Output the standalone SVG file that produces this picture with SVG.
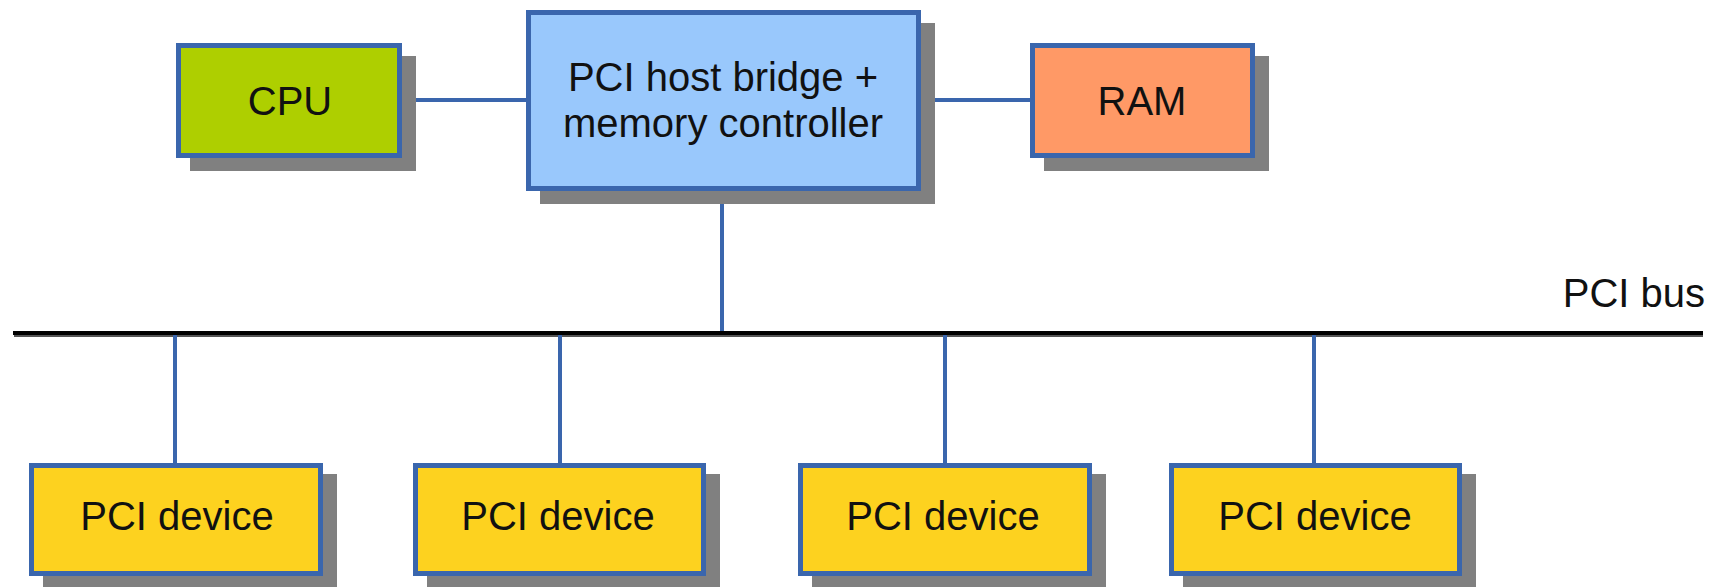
<svg xmlns="http://www.w3.org/2000/svg" width="1717" height="587" viewBox="0 0 1717 587">
  <style>
    .shadow { fill: #808080; }
    .box { stroke: #3a66ad; stroke-width: 5; }
    .cpu { fill: #aecf00; }
    .host { fill: #99c8fc; }
    .ram { fill: #ff9966; }
    .dev { fill: #fdd21f; }
    .label { font-family: "Liberation Sans", Arial, sans-serif; font-size: 40px; fill: #111; text-anchor: middle; }
    .link { stroke: #3a66ad; stroke-width: 4; fill: none; }
    .bus { stroke: #000; stroke-width: 4; fill: none; }
    .bus-shade { stroke: #555; stroke-width: 3; fill: none; }
  </style>

  <!-- connectors -->
  <g id="connectors">
    <line class="link" x1="402" y1="100" x2="526" y2="100"/>
    <line class="link" x1="921" y1="100" x2="1030" y2="100"/>
    <line class="link" x1="722" y1="191" x2="722" y2="333"/>
    <line class="bus-shade" x1="14" y1="335.5" x2="1703" y2="335.5"/>
    <line class="bus" x1="13" y1="333" x2="1703" y2="333"/>
    <line class="link" x1="175" y1="335" x2="175" y2="463"/>
    <line class="link" x1="560" y1="335" x2="560" y2="463"/>
    <line class="link" x1="945" y1="335" x2="945" y2="463"/>
    <line class="link" x1="1314" y1="335" x2="1314" y2="463"/>
    <text class="label" x="1705" y="307" style="text-anchor:end">PCI bus</text>
  </g>

  <g id="cpu">
    <rect class="shadow" x="190" y="56" width="226" height="115"/>
    <rect class="box cpu" x="178.5" y="45.5" width="221" height="110"/>
    <text class="label" x="290" y="115">CPU</text>
  </g>

  <g id="host-bridge">
    <rect class="shadow" x="540" y="23" width="395" height="181"/>
    <rect class="box host" x="528.5" y="12.5" width="390" height="176"/>
    <text class="label" x="723" y="91">PCI host bridge +</text>
    <text class="label" x="723" y="137">memory controller</text>
  </g>

  <g id="ram">
    <rect class="shadow" x="1044" y="56" width="225" height="115"/>
    <rect class="box ram" x="1032.5" y="45.5" width="220" height="110"/>
    <text class="label" x="1142" y="115">RAM</text>
  </g>

  <g id="device-1">
    <rect class="shadow" x="43" y="474" width="294" height="113"/>
    <rect class="box dev" x="31.5" y="465.5" width="289" height="108"/>
    <text class="label" x="177" y="530">PCI device</text>
  </g>

  <g id="device-2">
    <rect class="shadow" x="427" y="474" width="293" height="113"/>
    <rect class="box dev" x="415.5" y="465.5" width="288" height="108"/>
    <text class="label" x="558" y="530">PCI device</text>
  </g>

  <g id="device-3">
    <rect class="shadow" x="812" y="474" width="294" height="113"/>
    <rect class="box dev" x="800.5" y="465.5" width="289" height="108"/>
    <text class="label" x="943" y="530">PCI device</text>
  </g>

  <g id="device-4">
    <rect class="shadow" x="1183" y="474" width="293" height="113"/>
    <rect class="box dev" x="1171.5" y="465.5" width="288" height="108"/>
    <text class="label" x="1315" y="530">PCI device</text>
  </g>
</svg>
